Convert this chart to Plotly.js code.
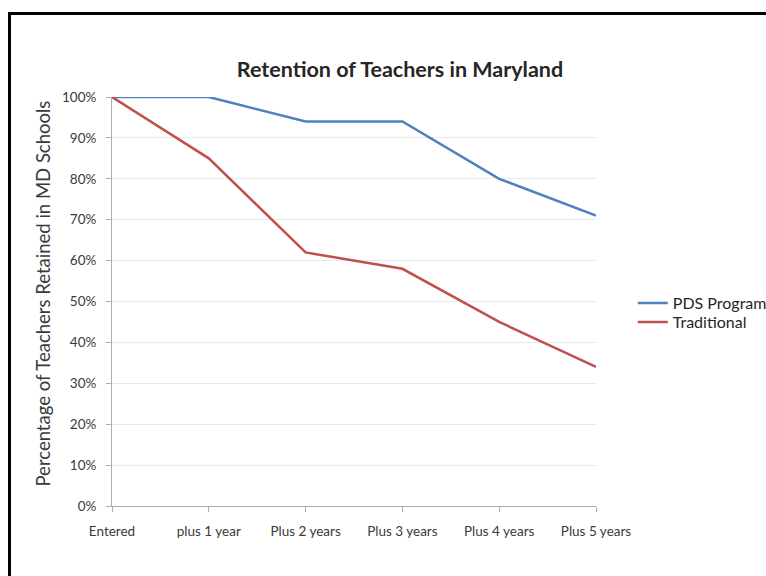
<!DOCTYPE html>
<html>
<head>
<meta charset="utf-8">
<script src="https://cdn.plot.ly/plotly-3.0.1.min.js"></script>
<style>
  html, body { margin: 0; padding: 0; width: 766px; height: 576px; overflow: hidden; background: #fff; }
  #chart { position: absolute; left: 0; top: 0; width: 800px; height: 576px; }
  #frame { position: absolute; left: 8px; top: 12px; width: 800px; height: 600px;
           border-top: 3px solid #000; border-left: 3px solid #000; pointer-events: none; }
</style>
</head>
<body>
<div id="chart"></div>
<div id="frame"></div>
<script>
const categories = ["Entered", "plus 1 year", "Plus 2 years", "Plus 3 years", "Plus 4 years", "Plus 5 years"];
const pdsProgram = [1.00, 1.00, 0.94, 0.94, 0.80, 0.71];
const traditional = [1.00, 0.85, 0.62, 0.58, 0.45, 0.34];
const seriesNames = ["PDS Program", "Traditional"];
const yTickValues = [0, 0.1, 0.2, 0.3, 0.4, 0.5, 0.6, 0.7, 0.8, 0.9, 1.0];
const chartTitle = "Retention of Teachers in Maryland";
const yAxisTitle = "Percentage of Teachers Retained in MD Schools";

const font = "Lato, 'Open Sans', sans-serif";

const traces = [
  { x: categories, y: pdsProgram, name: seriesNames[0], type: "scatter", mode: "lines",
    line: { color: "#4F81BD", width: 2.5 }, legend: "legend" },
  { x: categories, y: traditional, name: seriesNames[1], type: "scatter", mode: "lines",
    line: { color: "#C0504D", width: 2.5 }, legend: "legend2" }
];

const legendStyle = (yPix) => ({
  x: 1.076, xanchor: "left", y: (506 - yPix) / 409, yanchor: "middle",
  font: { family: font, size: 16, color: "#262626" },
  bgcolor: "rgba(0,0,0,0)", itemwidth: 30
});

const layout = {
  width: 800, height: 576,
  margin: { l: 112, r: 204, t: 97, b: 70 },
  paper_bgcolor: "#fff", plot_bgcolor: "#fff",
  font: { family: font, size: 13, color: "#333" },
  title: { text: "<b>" + chartTitle + "</b>", font: { family: font, size: 21.5, color: "#262626" },
           xref: "container", x: 0.5, xanchor: "center", yref: "container", y: 1 - 69/576, yanchor: "middle" },
  xaxis: {
    type: "category", range: [0, 5], showgrid: false, zeroline: false,
    showline: true, linecolor: "#ADADAD", linewidth: 1,
    ticks: "outside", ticklen: 5, tickcolor: "#ADADAD", ticklabelstandoff: 8,
    tickfont: { family: font, size: 13.5, color: "#3a3a3a" }, fixedrange: true
  },
  yaxis: {
    range: [0, 1], tickvals: yTickValues, tickformat: ".0%",
    showgrid: true, gridcolor: "#EAEAEA", gridwidth: 1, zeroline: false,
    showline: true, linecolor: "#ADADAD", linewidth: 1,
    ticks: "outside", ticklen: 5, tickcolor: "#ADADAD", ticklabelstandoff: 7,
    tickfont: { family: font, size: 13.5, color: "#3a3a3a" },
    fixedrange: true
  },
  annotations: [
    { text: yAxisTitle, textangle: -90, xref: "paper", yref: "paper",
      x: (42 - 112) / 484, y: (506 - 293.5) / 409, xanchor: "center", yanchor: "middle",
      showarrow: false, font: { family: font, size: 18.5, color: "#3a3a3a" } }
  ],
  showlegend: true,
  legend: legendStyle(303),
  legend2: legendStyle(322)
};

Plotly.newPlot("chart", traces, layout, { displayModeBar: false, staticPlot: true });
</script>
</body>
</html>
